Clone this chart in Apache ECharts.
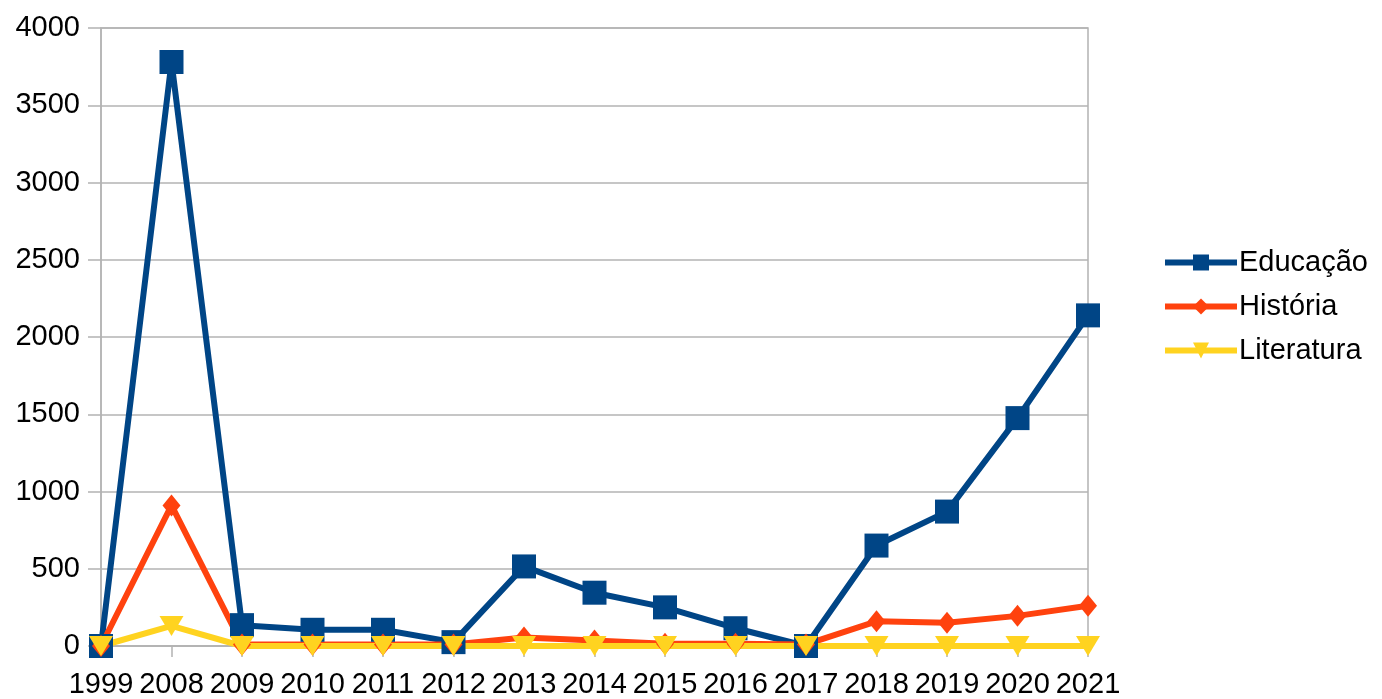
<!DOCTYPE html>
<html>
<head>
<meta charset="utf-8">
<script src="https://cdn.jsdelivr.net/npm/echarts@6/dist/echarts.min.js"></script>
<style>
html,body{margin:0;padding:0;background:#fff;}
#chart{width:1382px;height:699px;}
</style>
</head>
<body>
<div id="chart"></div>
<script>
var anos = ['1999','2008','2009','2010','2011','2012','2013','2014','2015','2016','2017','2018','2019','2020','2021'];
var educacao = [0, 3780, 135, 105, 105, 25, 515, 345, 250, 115, 0, 650, 870, 1475, 2140];
var historia = [0, 910, 10, 10, 10, 10, 55, 35, 15, 15, 10, 160, 150, 195, 260];
var literatura = [0, 130, 0, 0, 0, 0, 0, 0, 0, 0, 0, 0, 0, 0, 0];

var myChart = echarts.init(document.getElementById('chart'));
var fonte = 'Liberation Sans';
var option = {
    animation: false,
    grid: {
        left: 101,
        right: 294,
        top: 28,
        bottom: 53,
        show: true,
        borderColor: '#b3b3b3',
        borderWidth: 1.5
    },
    legend: {
        orient: 'vertical',
        left: 1157,
        top: 243,
        itemWidth: 72,
        itemHeight: 20,
        itemGap: 15,
        itemStyle: { },
        lineStyle: { width: 6 },
        textStyle: { fontFamily: fonte, fontSize: 29, color: '#000', padding: [0, 0, 0, -3] },
        data: ['Educação', 'História', 'Literatura']
    },
    xAxis: {
        type: 'category',
        boundaryGap: false,
        data: anos,
        axisLine: { lineStyle: { color: '#b3b3b3', width: 1.5 } },
        axisTick: { show: true, length: 11, alignWithLabel: true, lineStyle: { color: '#b3b3b3', width: 1.5 } },
        axisLabel: { interval: 0, margin: 24, fontFamily: fonte, fontSize: 29, color: '#000' },
        splitLine: { show: false }
    },
    yAxis: {
        type: 'value',
        min: 0,
        max: 4000,
        interval: 500,
        axisLine: { show: true, lineStyle: { color: '#b3b3b3', width: 1.5 } },
        axisTick: { show: true, length: 13, lineStyle: { color: '#b3b3b3', width: 1.5 } },
        axisLabel: {
            margin: 21, fontFamily: fonte, fontSize: 29, color: '#000',
            formatter: function (v) { return String(v); }
        },
        splitLine: { lineStyle: { color: '#b3b3b3', width: 1.5 } }
    },
    series: [{
        name: 'Educação',
        type: 'line',
        data: educacao,
        symbol: 'rect',
        symbolSize: 24,
        color: '#004586',
        lineStyle: { width: 6 }
    }, {
        name: 'História',
        type: 'line',
        data: historia,
        symbol: 'diamond',
        symbolSize: [18, 22],
        color: '#ff420e',
        lineStyle: { width: 6 }
    }, {
        name: 'Literatura',
        type: 'line',
        data: literatura,
        symbol: 'triangle',
        symbolRotate: 180,
        symbolSize: [24, 20],
        color: '#ffd320',
        lineStyle: { width: 6 }
    }]
};
myChart.setOption(option);
</script>
</body>
</html>
